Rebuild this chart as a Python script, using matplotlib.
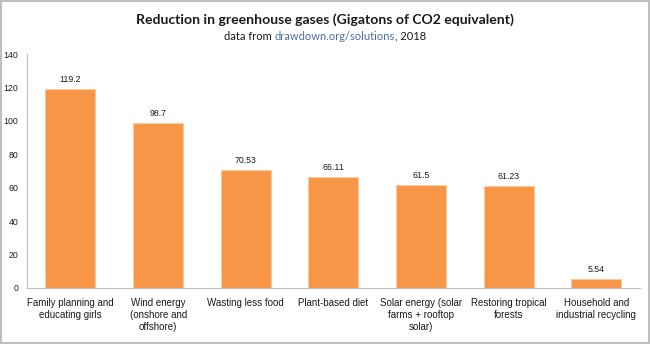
import matplotlib
matplotlib.use("Agg")
import matplotlib.pyplot as plt
from matplotlib.patches import Rectangle

# data
categories = [
    "Family planning and\neducating girls",
    "Wind energy\n(onshore and\noffshore)",
    "Wasting less food",
    "Plant-based diet",
    "Solar energy (solar\nfarms + rooftop\nsolar)",
    "Restoring tropical\nforests",
    "Household and\nindustrial recycling",
]
values = [119.2, 98.7, 70.53, 66.11, 61.5, 61.23, 5.54]
value_labels = ["119.2", "98.7", "70.53", "66.11", "61.5", "61.23", "5.54"]
yticks = [0, 20, 40, 60, 80, 100, 120, 140]

C_BAR   = "#f79646"
C_EDGE  = "#fbc9a0"
C_AXIS  = "#bfbfbf"
C_TEXT  = "#1a1a1a"
C_LINK  = "#4a6fa5"

fig = plt.figure(figsize=(6.5, 3.44), dpi=100)
fig.patch.set_facecolor("white")
ax = fig.add_axes([0.041, 0.163, 0.944, 0.68])

x = range(len(values))
ax.bar(x, values, width=0.57, color=C_BAR, edgecolor=C_EDGE, linewidth=0.8, zorder=2)
for i, (v, lab) in enumerate(zip(values, value_labels)):
    ax.text(i, v + 3, lab, ha="center", va="bottom", fontsize=6.3,
            family="Liberation Sans", color=C_TEXT)

ax.set_xlim(-0.5, len(values) - 0.5)
ax.set_ylim(0, 140)
ax.set_yticks(yticks)
ax.set_yticklabels([str(t) for t in yticks], fontsize=6.3, family="Liberation Sans", color=C_TEXT)
ax.set_xticks(list(x))
ax.set_xticklabels(categories, fontsize=7.0, family="Liberation Sans", color=C_TEXT, linespacing=1.3)
ax.tick_params(axis="both", length=0)
ax.tick_params(axis="x", pad=7)
ax.tick_params(axis="y", pad=6)
for s in ["top", "right"]:
    ax.spines[s].set_visible(False)
for s in ["left", "bottom"]:
    ax.spines[s].set_color(C_AXIS)
    ax.spines[s].set_linewidth(0.8)

# title + subtitle (link part in blue)
fig.text(0.5, 0.942, "Reduction in greenhouse gases (Gigatons of CO2 equivalent)",
         ha="center", va="center", fontsize=10.1, fontweight="bold", family="Lato", color=C_TEXT)
parts = [("data from ", C_TEXT), ("drawdown.org/solutions", C_LINK), (", 2018", C_TEXT)]
fig.canvas.draw()
r = fig.canvas.get_renderer()
texts = [fig.text(0, 0.895, p, fontsize=8.0, family="Lato", color=c, va="center") for p, c in parts]
widths = [t.get_window_extent(r).width / fig.bbox.width for t in texts]
xs = 0.5 - sum(widths) / 2
for t, w in zip(texts, widths):
    t.set_x(xs)
    xs += w

# grey border around the figure
fig.add_artist(Rectangle((0.002, 0.003), 0.996, 0.994, transform=fig.transFigure,
                         fill=False, edgecolor=C_AXIS, linewidth=1.5))

fig.savefig("out.png", dpi=100)
